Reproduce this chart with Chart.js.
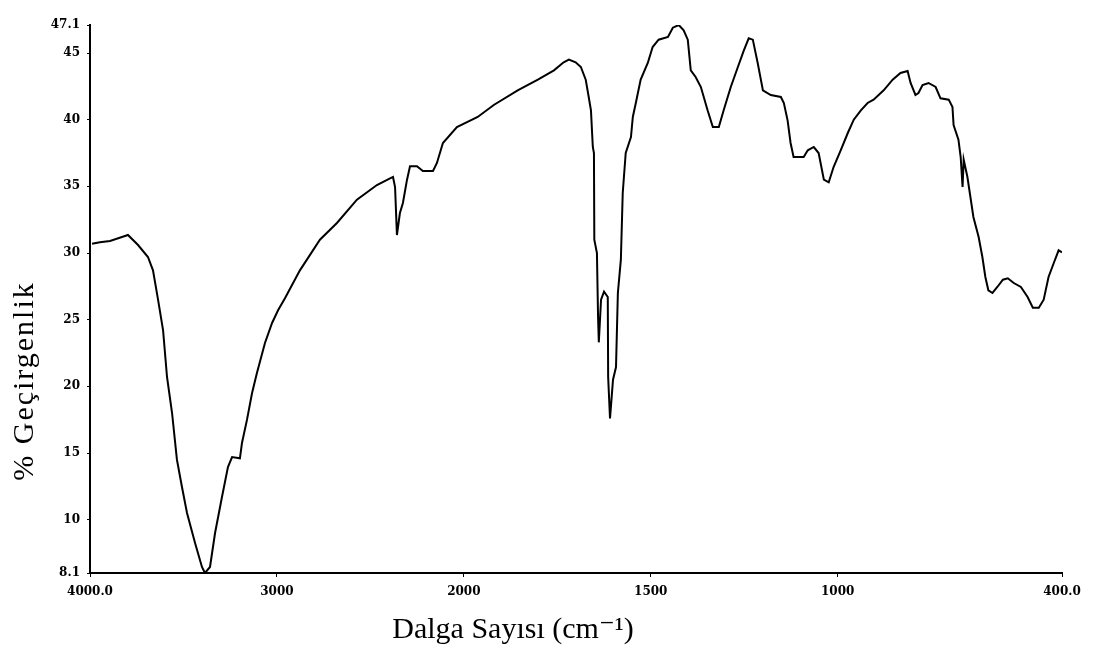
<!DOCTYPE html>
<html>
<head>
<meta charset="utf-8">
<script src="https://cdn.jsdelivr.net/npm/chart.js@4/dist/chart.umd.min.js"></script>
<style>
  html, body { margin: 0; padding: 0; background: #fff; }
  #c { display: block; }
</style>
</head>
<body>
<canvas id="c" width="1093" height="653"></canvas>
<script>
// Wavenumbers (cm-1)
const wavenumbers = [
  3989, 3947, 3893, 3829, 3797, 3743, 3690, 3663, 3636, 3609, 3588, 3561, 3535, 3508, 3481, 3438, 3401, 3385, 3358, 3331,
  3294, 3262, 3240, 3198, 3187, 3160, 3133, 3107, 3064, 3026, 2994, 2957, 2877, 2770, 2679, 2572, 2465, 2395, 2379, 2368,
  2358, 2342, 2326, 2304, 2288, 2251, 2219, 2165, 2144, 2112, 2037, 1963, 1920, 1856, 1802, 1759, 1733, 1719, 1701, 1687,
  1674, 1666, 1660, 1655, 1652, 1651, 1644, 1641, 1639, 1633, 1625, 1615, 1614, 1609, 1601, 1593, 1588, 1580, 1575, 1567,
  1553, 1548, 1540, 1527, 1508, 1495, 1479, 1454, 1441, 1425, 1412, 1401, 1393, 1380, 1366, 1348, 1334, 1318, 1305, 1286,
  1267, 1251, 1238, 1227, 1214, 1200, 1179, 1152, 1144, 1134, 1126, 1118, 1091, 1080, 1064, 1051, 1037, 1024, 1011, 992,
  973, 957, 938, 920, 904, 877, 853, 832, 813, 805, 792, 784, 773, 757, 738, 725, 703, 693, 690, 677,
  671, 666, 663, 653, 645, 637, 623, 613, 605, 597, 586, 573, 558, 545, 529, 510, 492, 478, 462, 449,
  436, 422, 409, 400
];
// % transmittance values
const transmittance = [
  30.7, 30.8, 30.9, 31.2, 31.35, 30.6, 29.7, 28.7, 26.5, 24.2, 20.7, 18.0, 14.5, 12.45, 10.5, 8.25, 6.45, 6.0, 6.45, 9.0,
  11.7, 13.95, 14.7, 14.6, 15.75, 17.5, 19.5, 21.0, 23.25, 24.75, 25.7, 26.6, 28.7, 31.0, 32.25, 34.0, 35.1, 35.6, 35.7, 34.95,
  31.35, 33.0, 33.75, 35.5, 36.5, 36.5, 36.15, 36.15, 36.75, 38.25, 39.45, 40.2, 41.1, 42.2, 43.0, 43.7, 44.3, 44.5, 44.3, 43.95,
  43.0, 41.7, 40.7, 37.95, 37.5, 31.0, 30.0, 25.2, 23.3, 26.5, 27.1, 26.7, 20.7, 17.6, 20.5, 21.45, 27.0, 29.5, 34.5, 37.5,
  38.7, 40.2, 41.25, 43.0, 44.25, 45.45, 46.0, 46.2, 46.9, 47.1, 46.7, 46.0, 43.7, 43.2, 42.45, 40.7, 39.45, 39.45, 40.7, 42.45,
  43.95, 45.2, 46.1, 46.0, 44.25, 42.2, 41.85, 41.7, 41.25, 39.95, 38.25, 37.2, 37.2, 37.7, 37.95, 37.5, 35.5, 35.3, 36.45, 37.7,
  39.0, 40.0, 40.7, 41.25, 41.5, 42.2, 43.0, 43.5, 43.65, 42.75, 41.85, 42.0, 42.6, 42.75, 42.45, 41.6, 41.5, 40.95, 39.6, 38.5,
  37.2, 34.95, 37.0, 35.7, 34.2, 32.7, 31.2, 29.7, 28.2, 27.2, 27.0, 27.45, 28.0, 28.1, 27.75, 27.45, 26.7, 25.9, 25.9, 26.5,
  28.2, 29.25, 30.2, 30.05
];

const xTickValues = [4000, 3000, 2000, 1500, 1000, 400];
const xTickLabels = ['4000.0', '3000', '2000', '1500', '1000', '400.0'];
const yTickValues = [6.0, 10, 15, 20, 25, 30, 35, 40, 45, 47.1];
const yTickLabels = ['8.1', '10', '15', '20', '25', '30', '35', '40', '45', '47.1'];

const xTitle = 'Dalga Sayısı (cm⁻¹)';
const yTitle = '% Geçirgenlik';

// The spectrometer axis is compressed 2:1 above 2000 cm-1
function toAxis(w) { return w > 2000 ? 2000 + (w - 2000) / 2 : w; }

const points = wavenumbers.map((w, i) => ({ x: toAxis(w), y: transmittance[i] }));

const titlePlugin = {
  id: 'axisTitles',
  afterDraw(chart) {
    const ctx = chart.ctx;
    ctx.save();
    ctx.fillStyle = '#000';
    ctx.font = '30px "Liberation Serif", "DejaVu Serif", serif';
    ctx.textAlign = 'center';
    ctx.textBaseline = 'middle';
    ctx.fillText(xTitle, 513, 630);
    ctx.translate(25, 381);
    ctx.rotate(-Math.PI / 2);
    ctx.letterSpacing = '2px';
    ctx.fillText(yTitle, 0, 0);
    ctx.restore();
  }
};

new Chart(document.getElementById('c'), {
  type: 'scatter',
  data: {
    datasets: [{
      data: points,
      showLine: true,
      borderColor: '#000',
      borderWidth: 2,
      pointRadius: 0,
      tension: 0,
      fill: false
    }]
  },
  options: {
    responsive: false,
    animation: false,
    events: [],
    layout: { padding: { left: 0, right: 31, top: 25, bottom: 0 } },
    plugins: { legend: { display: false }, tooltip: { enabled: false } },
    scales: {
      x: {
        type: 'linear',
        reverse: true,
        min: 400,
        max: 3000,
        afterBuildTicks(scale) { scale.ticks = xTickValues.map(v => ({ value: toAxis(v) })); },
        afterFit(scale) { scale.height = 80; },
        ticks: {
          autoSkip: false,
          maxRotation: 0,
          padding: 8,
          color: '#000',
          font: { family: '"DejaVu Serif", serif', size: 12, weight: 'bold' },
          callback(value, index) { return xTickLabels[index]; }
        },
        grid: { drawOnChartArea: false, tickLength: 4, color: '#000', lineWidth: 1 },
        border: { display: true, color: '#000', width: 2 },
        title: { display: false }
      },
      y: {
        type: 'linear',
        min: 6.0,
        max: 47.1,
        afterBuildTicks(scale) { scale.ticks = yTickValues.map(v => ({ value: v })); },
        afterFit(scale) { scale.width = 90; },
        ticks: {
          autoSkip: false,
          padding: 7,
          color: '#000',
          font: { family: '"DejaVu Serif", serif', size: 12, weight: 'bold' },
          callback(value, index) { return yTickLabels[index]; }
        },
        grid: { drawOnChartArea: false, tickLength: 3, color: '#000', lineWidth: 1 },
        border: { display: true, color: '#000', width: 2 },
        title: { display: false }
      }
    }
  },
  plugins: [titlePlugin]
});
</script>
</body>
</html>
